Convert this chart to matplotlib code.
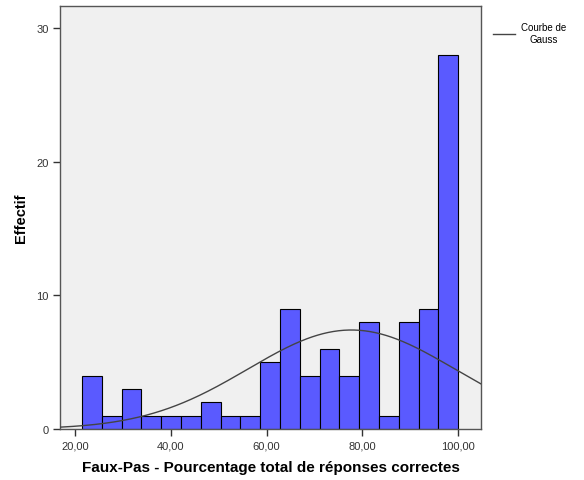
import numpy as np
import matplotlib.pyplot as plt

plt.rcParams['font.family'] = ['Liberation Sans', 'DejaVu Sans']

# histogram counts per bin
counts = [4, 1, 3, 1, 1, 1, 2, 1, 1, 5, 9, 4, 6, 4, 8, 1, 8, 9, 28]
bin_start = 21.43
bin_end = 100.0

# fitted normal curve parameters
gauss_mean = 77.7
gauss_sd = 21.6

xticks = [20, 40, 60, 80, 100]
yticks = [0, 10, 20, 30]

edges = np.linspace(bin_start, bin_end, len(counts) + 1)
width = edges[1] - edges[0]
n_total = sum(counts)

fig = plt.figure(figsize=(5.84, 4.81), dpi=100)
ax = fig.add_axes([0.1027, 0.106, 0.721, 0.8794])
ax.set_facecolor('#f0f0f0')

ax.bar(edges[:-1], counts, width=width, align='edge', color='#5a5aff',
       edgecolor='black', linewidth=0.8, zorder=2)

xs = np.linspace(16.8, 104.8, 400)
ys = n_total * width / (gauss_sd * np.sqrt(2 * np.pi)) * np.exp(-0.5 * ((xs - gauss_mean) / gauss_sd) ** 2)
line, = ax.plot(xs, ys, color='#444444', linewidth=1, zorder=3)

ax.set_xlim(16.8, 104.8)
ax.set_ylim(0, 31.65)
ax.set_xticks(xticks)
ax.set_xticklabels([f'{v:.2f}'.replace('.', ',') for v in xticks])
ax.set_yticks(yticks)
ax.tick_params(labelsize=8, colors='#333333', length=5, width=1, direction='out', pad=3)

for s in ax.spines.values():
    s.set_color('#555555')
    s.set_linewidth(1)

ax.set_xlabel('Faux-Pas - Pourcentage total de réponses correctes',
              fontsize=11, fontweight='bold', labelpad=7)
ax.set_ylabel('Effectif', fontsize=10.5, fontweight='bold', labelpad=6)

leg = fig.legend([line], ['Courbe de\nGauss'], loc='upper left',
                 bbox_to_anchor=(0.83, 0.97), frameon=False, fontsize=7,
                 handlelength=2.2, handletextpad=0.6)
for t in leg.get_texts():
    t.set_multialignment('center')

plt.savefig('out.png', dpi=100)
plt.close()
